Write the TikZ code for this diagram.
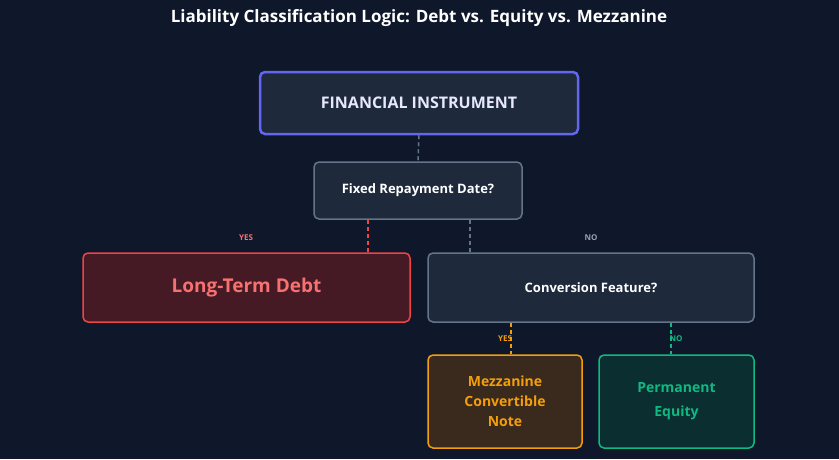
\documentclass[tikz,border=0pt]{standalone}
\usepackage{fontspec}
\setmainfont{Open Sans}
\usetikzlibrary{positioning,calc}
\definecolor{bgnavy}{HTML}{0F172A}
\definecolor{slatebox}{HTML}{1E293B}
\definecolor{slateline}{HTML}{64748B}
\definecolor{indigoline}{HTML}{6366F1}
\definecolor{redline}{HTML}{EF4444}
\definecolor{redtext}{HTML}{F87171}
\definecolor{redfill}{HTML}{451A25}
\definecolor{amberline}{HTML}{F59E0B}
\definecolor{amberfill}{HTML}{3A2A1E}
\definecolor{greenline}{HTML}{10B981}
\definecolor{greenfill}{HTML}{0B2E30}
\definecolor{labelgray}{HTML}{94A3B8}
\tikzset{
  box/.style={draw, rounded corners=5pt, line width=1.5pt, align=center, font=\bfseries, inner sep=0pt},
  link/.style={dashed, line width=1.5pt, dash pattern=on 4pt off 3pt},
  tag/.style={font=\bfseries\fontsize{8}{9}\selectfont}
}
\begin{document}
\begin{tikzpicture}[x=1pt,y=-1pt]
    % Background
    \fill[bgnavy] (0,0) rectangle (839,459);
    \useasboundingbox (0,0) rectangle (839,459);

    % Title
    \node[text=white, font=\bfseries\fontsize{17}{20}\selectfont] (title) at (419,18) {Liability Classification Logic: Debt vs. Equity vs. Mezzanine};

    % Boxes
    \node[box, draw=indigoline, line width=2.5pt, fill=slatebox, text=white!85!indigoline, minimum width=318pt, minimum height=62pt, font=\bfseries\fontsize{16}{19}\selectfont] (instr) at (419,103) {FINANCIAL INSTRUMENT};
    \node[box, draw=slateline, fill=slatebox, text=white, minimum width=208pt, minimum height=57pt, font=\bfseries\fontsize{13}{16}\selectfont] (fixed) at (418,190.5) {Fixed Repayment Date?};
    \node[box, draw=redline, fill=redfill, text=redtext, minimum width=327pt, minimum height=69pt, font=\bfseries\fontsize{19}{23}\selectfont] (debt) at (246.5,287.5) {Long-Term Debt};
    \node[box, draw=slateline, fill=slatebox, text=white, minimum width=326pt, minimum height=69pt, font=\bfseries\fontsize{13}{16}\selectfont] (conv) at (591,287.5) {Conversion Feature?};
    \node[box, draw=amberline, fill=amberfill, text=amberline, minimum width=154pt, minimum height=93pt, font=\bfseries\fontsize{14}{20}\selectfont] (mezz) at (505,401.5) {Mezzanine\\Convertible\\Note};
    \node[box, draw=greenline, fill=greenfill, text=greenline, minimum width=155pt, minimum height=93pt, font=\bfseries\fontsize{14}{24}\selectfont] (equity) at (676.5,401.5) {Permanent\\Equity};

    % Connectors
    \draw[link, slateline] (instr.south) -- (fixed.north);
    \draw[link, redline] ([xshift=-50pt]fixed.south) -- ([xshift=-50pt]fixed.south |- debt.north);
    \draw[link, slateline] ([xshift=52pt]fixed.south) -- ([xshift=52pt]fixed.south |- conv.north);
    \draw[link, amberline] ([xshift=-80pt]conv.south) -- ([xshift=-80pt]conv.south |- mezz.north);
    \draw[link, greenline] ([xshift=80pt]conv.south) -- ([xshift=80pt]conv.south |- equity.north);

    % Labels
    \node[tag, text=redtext] (yesdebt) at (246,238) {YES};
    \node[tag, text=labelgray] (noconv) at (591,238) {NO};
    \node[tag, text=amberline] (yesmezz) at (505,339) {YES};
    \node[tag, text=greenline] (noequity) at (676,339) {NO};
\end{tikzpicture}
\end{document}
